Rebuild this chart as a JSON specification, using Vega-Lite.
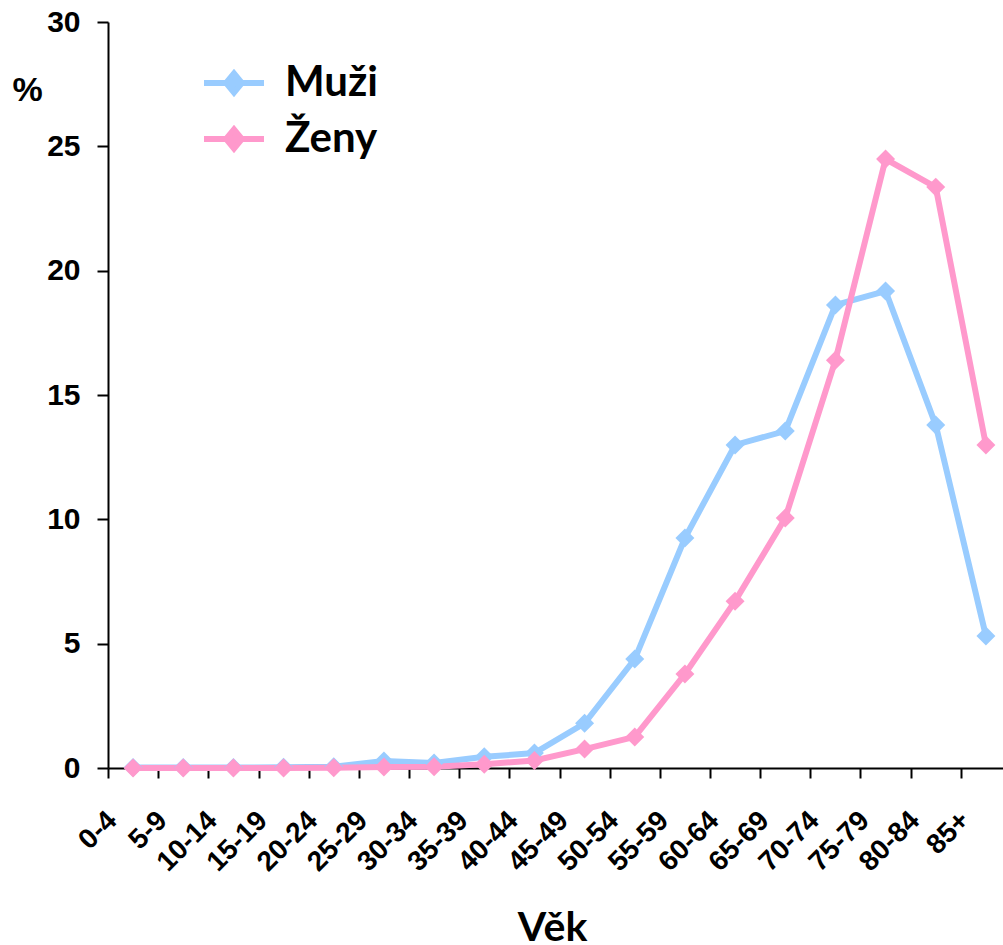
{
  "$schema": "https://vega.github.io/schema/vega-lite/v6.json",
  "width": 903,
  "height": 746,
  "autosize": {"type": "none"},
  "padding": {"left": 108, "top": 22, "right": 0, "bottom": 177},
  "background": "white",
  "config": {"view": {"stroke": null}},
  "data": {"values": [
    {"age": "0-4", "sex": "Muži", "value": 0.02},
    {"age": "5-9", "sex": "Muži", "value": 0.02},
    {"age": "10-14", "sex": "Muži", "value": 0.02},
    {"age": "15-19", "sex": "Muži", "value": 0.03},
    {"age": "20-24", "sex": "Muži", "value": 0.05},
    {"age": "25-29", "sex": "Muži", "value": 0.28},
    {"age": "30-34", "sex": "Muži", "value": 0.2},
    {"age": "35-39", "sex": "Muži", "value": 0.45},
    {"age": "40-44", "sex": "Muži", "value": 0.6},
    {"age": "45-49", "sex": "Muži", "value": 1.8},
    {"age": "50-54", "sex": "Muži", "value": 4.38},
    {"age": "55-59", "sex": "Muži", "value": 9.25},
    {"age": "60-64", "sex": "Muži", "value": 12.99},
    {"age": "65-69", "sex": "Muži", "value": 13.55},
    {"age": "70-74", "sex": "Muži", "value": 18.62},
    {"age": "75-79", "sex": "Muži", "value": 19.18},
    {"age": "80-84", "sex": "Muži", "value": 13.79},
    {"age": "85+", "sex": "Muži", "value": 5.31},
    {"age": "0-4", "sex": "Ženy", "value": 0.0},
    {"age": "5-9", "sex": "Ženy", "value": 0.0},
    {"age": "10-14", "sex": "Ženy", "value": 0.0},
    {"age": "15-19", "sex": "Ženy", "value": 0.0},
    {"age": "20-24", "sex": "Ženy", "value": 0.01},
    {"age": "25-29", "sex": "Ženy", "value": 0.04},
    {"age": "30-34", "sex": "Ženy", "value": 0.05},
    {"age": "35-39", "sex": "Ženy", "value": 0.15},
    {"age": "40-44", "sex": "Ženy", "value": 0.3},
    {"age": "45-49", "sex": "Ženy", "value": 0.76},
    {"age": "50-54", "sex": "Ženy", "value": 1.25},
    {"age": "55-59", "sex": "Ženy", "value": 3.78},
    {"age": "60-64", "sex": "Ženy", "value": 6.71},
    {"age": "65-69", "sex": "Ženy", "value": 10.05},
    {"age": "70-74", "sex": "Ženy", "value": 16.4},
    {"age": "75-79", "sex": "Ženy", "value": 24.49},
    {"age": "80-84", "sex": "Ženy", "value": 23.36},
    {"age": "85+", "sex": "Ženy", "value": 12.99}
  ]},
  "mark": {
    "type": "line",
    "strokeWidth": 6,
    "point": {"shape": "diamond", "size": 360, "filled": true, "opacity": 1}
  },
  "encoding": {
    "x": {
      "field": "age",
      "type": "ordinal",
      "sort": null,
      "bandPosition": 0.5,
      "scale": {"type": "band", "paddingInner": 0, "paddingOuter": 0},
      "axis": {
        "title": "Věk",
        "titleFont": "Lato",
        "titleFontSize": 41,
        "titleFontWeight": "bold",
        "titleColor": "black",
        "titleX": 444,
        "titleY": 172,
        "titleAlign": "center",
        "titleBaseline": "alphabetic",
        "tickBand": "extent",
        "tickSize": 10,
        "tickWidth": 2,
        "tickColor": "black",
        "domainColor": "black",
        "domainWidth": 2,
        "labelAngle": -45,
        "labelAlign": "right",
        "labelBaseline": "middle",
        "labelOffset": -21,
        "labelFont": "Liberation Sans",
        "labelFontSize": 28,
        "labelFontWeight": "bold",
        "labelColor": "black",
        "labelPadding": 38,
        "labelOverlap": false,
        "grid": false
      }
    },
    "y": {
      "field": "value",
      "type": "quantitative",
      "scale": {"domain": [0, 30], "nice": false},
      "axis": {
        "values": [0, 5, 10, 15, 20, 25, 30],
        "title": "%",
        "titleAngle": 0,
        "titleX": -81,
        "titleY": 68,
        "titleAlign": "center",
        "titleBaseline": "middle",
        "titleFont": "Liberation Sans",
        "titleFontSize": 34,
        "titleFontWeight": "bold",
        "titleColor": "black",
        "tickSize": 11,
        "tickWidth": 2,
        "tickColor": "black",
        "domainColor": "black",
        "domainWidth": 2,
        "labelFont": "Liberation Sans",
        "labelFontSize": 30,
        "labelFontWeight": "bold",
        "labelColor": "black",
        "labelPadding": 17,
        "grid": false
      }
    },
    "color": {
      "field": "sex",
      "type": "nominal",
      "sort": ["Muži", "Ženy"],
      "scale": {"domain": ["Muži", "Ženy"], "range": ["#99CCFF", "#FF99CC"]},
      "legend": {
        "title": null,
        "orient": "none",
        "legendX": 105,
        "legendY": 40,
        "padding": 0,
        "symbolType": "M-2.5,0L2.5,0M-0.65,0L0,-0.8L0.65,0L0,0.8Z",
        "symbolSize": 576,
        "symbolStrokeWidth": 6,
        "labelFont": "Lato",
        "labelFontSize": 42,
        "labelFontWeight": "bold",
        "labelColor": "black",
        "labelOffset": 30,
        "rowPadding": 12,
        "encode": {
          "symbols": {
            "update": {
              "fill": {"scale": "color", "field": "value"},
              "stroke": {"scale": "color", "field": "value"},
              "opacity": {"value": 1}
            }
          }
        }
      }
    }
  }
}
